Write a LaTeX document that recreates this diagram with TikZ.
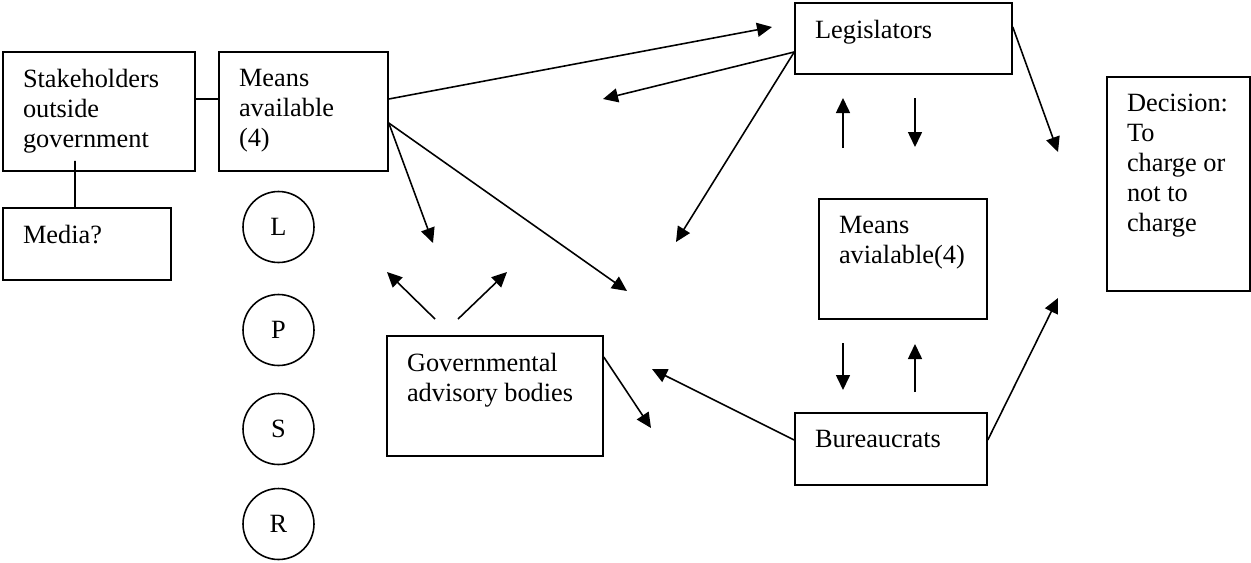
\documentclass[tikz,border=0pt]{standalone}
\usepackage{fontspec}
\setmainfont{Liberation Serif}
\usetikzlibrary{arrows.meta}

\begin{document}
\begin{tikzpicture}[x=0.02cm, y=-0.02cm,
        font=\fontsize{15pt}{17pt}\selectfont,
        box/.style={draw, line width=0.9pt, inner xsep=0.4cm, inner ysep=0.35cm},
        ring/.style={draw, circle, line width=0.9pt, minimum size=1.42cm, inner sep=0pt},
        arr/.style={-{Triangle[length=0.3cm,width=0.28cm]}, line width=0.9pt}]
    \useasboundingbox (0,0) rectangle (1251,562);

    % boxes
    \node[box] (stake) at (99,111.5) {\parbox[c][1.68cm][t]{3.04cm}{Stakeholders\\outside\\government}};
    \node[box] (means) at (303.5,111.5) {\parbox[c][1.68cm][t]{2.58cm}{Means\\available\\(4)}};
    \node[box] (media) at (87,244) {\parbox[c][0.74cm][t]{2.56cm}{Media?}};
    \node[box] (legis) at (903.5,38.5) {\parbox[c][0.72cm][t]{3.54cm}{Legislators}};
    \node[box] (decide) at (1178.5,184) {\parbox[c][3.58cm][t]{2.06cm}{Decision:\\To\\charge or\\not to\\charge}};
    \node[box] (meansb) at (903,259) {\parbox[c][1.7cm][t]{2.56cm}{Means\\avialable(4)}};
    \node[box] (gov) at (495,396) {\parbox[c][1.7cm][t]{3.52cm}{Governmental\\advisory bodies}};
    \node[box] (bureau) at (891,449) {\parbox[c][0.74cm][t]{3.04cm}{Bureaucrats}};

    % the four means
    \node[ring] (lring) at (278.5,227) {L};
    \node[ring] (pring) at (278.5,330) {P};
    \node[ring] (sring) at (278.5,429) {S};
    \node[ring] (rring) at (278.5,524) {R};

    % free arrow ends
    \coordinate (tolegis) at (772,27);
    \coordinate (togovup) at (433,243);
    \coordinate (tomid) at (627,291);
    \coordinate (legisleft) at (603,99);
    \coordinate (legisdown) at (676,242);
    \coordinate (todecide) at (1058,152);
    \coordinate (govlfoot) at (435,319);
    \coordinate (govltip) at (387,272);
    \coordinate (govrfoot) at (458,319);
    \coordinate (govrtip) at (507,272);
    \coordinate (govout) at (651,428);
    \coordinate (bureauin) at (652,369);
    \coordinate (bureaudec) at (1058,298);
    \coordinate (upfoot) at (843,148);
    \coordinate (uptip) at (843,98);
    \coordinate (downfoot) at (915,98);
    \coordinate (downtip) at (915,147);
    \coordinate (lowdownfoot) at (843,343);
    \coordinate (lowdowntip) at (843,390);
    \coordinate (lowupfoot) at (915,392);
    \coordinate (lowuptip) at (915,344);

    \draw[line width=0.9pt]
        ([yshift=0.25cm]stake.east) -- ([yshift=0.25cm]means.west)
        ([xshift=-0.48cm,yshift=0.22cm]stake.south) -- ([xshift=-0.24cm]media.north)
    ;
    \draw[arr] ([yshift=0.25cm]means.east) -- (tolegis);
    \draw[arr] ([yshift=-0.23cm]means.east) -- (togovup);
    \draw[arr] ([yshift=-0.23cm]means.east) -- (tomid);
    \draw[arr] ([yshift=-0.27cm]legis.west) -- (legisleft);
    \draw[arr] ([yshift=-0.27cm]legis.west) -- (legisdown);
    \draw[arr] ([yshift=0.23cm]legis.east) -- (todecide);
    \draw[arr] (govlfoot) -- (govltip);
    \draw[arr] (govrfoot) -- (govrtip);
    \draw[arr] ([yshift=0.78cm]gov.east) -- (govout);
    \draw[arr] ([yshift=0.18cm]bureau.west) -- (bureauin);
    \draw[arr] ([yshift=0.18cm]bureau.east) -- (bureaudec);
    \draw[arr] (upfoot) -- (uptip);
    \draw[arr] (downfoot) -- (downtip);
    \draw[arr] (lowdownfoot) -- (lowdowntip);
    \draw[arr] (lowupfoot) -- (lowuptip);
\end{tikzpicture}
\end{document}
